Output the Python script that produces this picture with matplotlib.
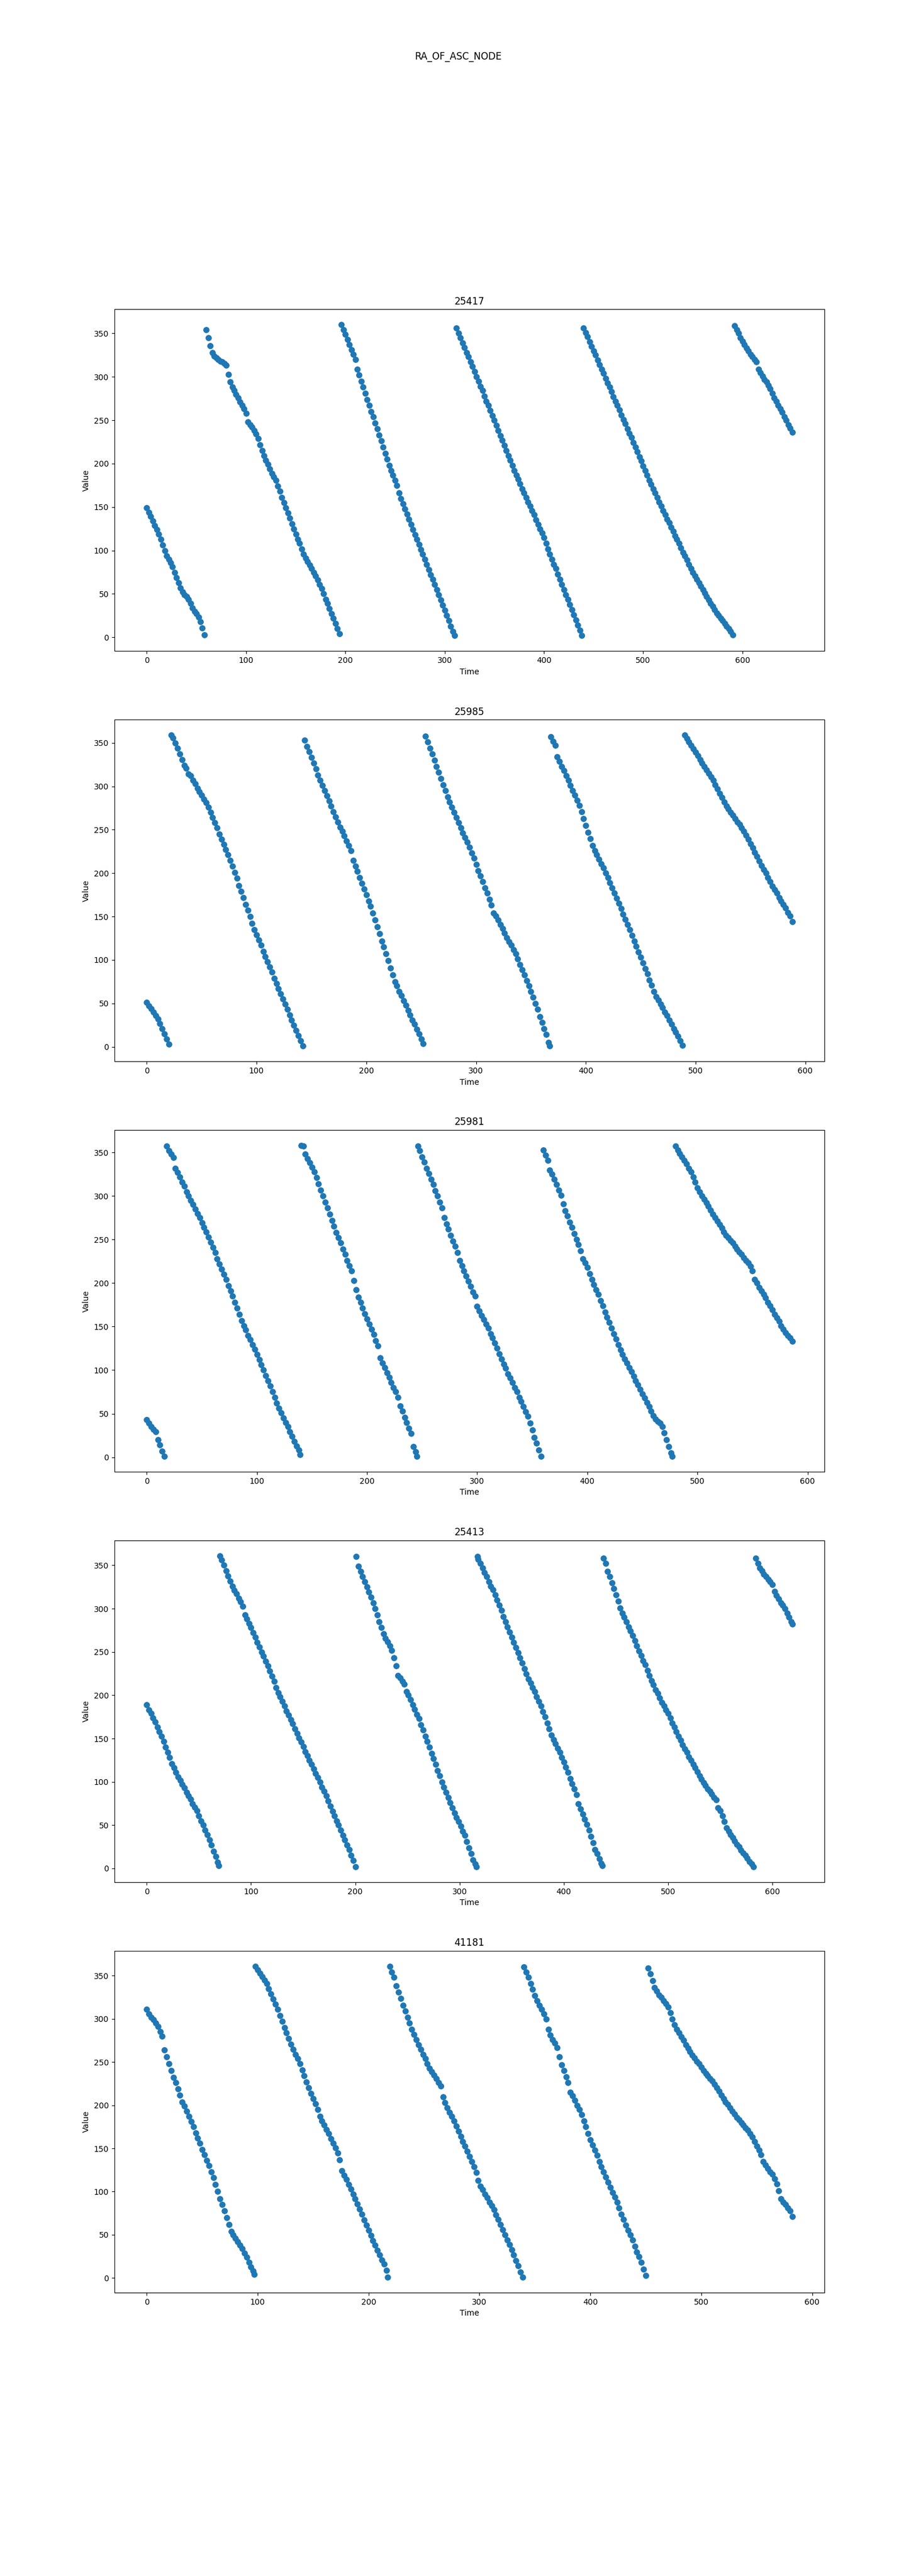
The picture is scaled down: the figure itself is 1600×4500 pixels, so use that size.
import matplotlib
matplotlib.use('Agg')
import matplotlib.pyplot as plt

# object ids shown as subplot titles
ids = ['25417', '25985', '25981', '25413', '41181']

# ---- 25417 ----
t_25417 = [0, 2, 4, 6, 8, 10, 12, 14, 16, 18, 20, 22, 24, 26, 28, 30, 32, 34, 36, 38, 40, 42, 44, 46, 48, 50, 52, 54, 56, 58,
           60, 62, 64, 66, 68, 70, 72, 74, 76, 78, 80, 82, 84, 86, 88, 90, 92, 94, 96, 98, 100, 102, 104, 106, 108, 110, 112, 114, 116, 118,
           120, 122, 124, 126, 128, 130, 132, 134, 136, 138, 140, 142, 144, 146, 148, 150, 152, 154, 156, 158, 160, 162, 164, 166, 168, 170,
           172, 174, 176, 178, 180, 182, 184, 186, 188, 190, 192, 194,
           196, 198, 200, 202, 204, 206, 208, 210, 212, 214, 216, 218, 220, 222, 224, 226, 228, 230, 232, 234, 236, 238, 240, 242, 244, 246,
           248, 250, 252, 254, 256, 258, 260, 262, 264, 266, 268, 270, 272, 274, 276, 278, 280, 282, 284, 286, 288, 290, 292, 294, 296, 298,
           300, 302, 304, 306, 308, 310,
           312, 314, 316, 318, 320, 322, 324, 326, 328, 330, 332, 334, 336, 338, 340, 342, 344, 346, 348, 350, 352, 354, 356, 358, 360, 362,
           364, 366, 368, 370, 372, 374, 376, 378, 380, 382, 384, 386, 388, 390, 392, 394, 396, 398, 400, 402, 404, 406, 408, 410, 412, 414,
           416, 418, 420, 422, 424, 426, 428, 430, 432, 434, 436, 438,
           440, 442, 444, 446, 448, 450, 452, 454, 456, 458, 460, 462, 464, 466, 468, 470, 472, 474, 476, 478, 480, 482, 484, 486, 488, 490,
           492, 494, 496, 498, 500, 502, 504, 506, 508, 510, 512, 514, 516, 518, 520, 522, 524, 526, 528, 530, 532, 534, 536, 538, 540, 542,
           544, 546, 548, 550, 552, 554, 556, 558, 560, 562, 564, 566, 568, 570, 572, 574, 576, 578, 580, 582, 584, 586, 588, 590,
           592, 594, 596, 598, 600, 602, 604, 606, 608, 610, 612, 614, 616, 618, 620, 622, 624, 626, 628, 630, 632, 634, 636, 638, 640, 642,
           644, 646, 648, 650]
v_25417 = [149, 144, 139, 134, 129, 124, 119, 113, 106, 100, 94, 90, 86, 81, 75, 69, 63, 57, 52, 49, 47, 44, 39, 34, 30, 27, 23, 18, 11, 3,
           354, 345, 336, 328, 324, 322, 320, 318, 317, 315, 313, 303, 294, 288, 284, 280, 276, 271, 267, 263, 258, 248, 245, 242, 238, 234,
           229, 222, 215, 209, 204, 199, 194, 189, 185, 181, 174, 168, 161, 155, 149, 143, 137, 131, 125, 119, 113, 108, 102, 96, 91, 87,
           83, 79, 75, 71, 66, 61, 56, 50, 44, 39, 33, 27, 22, 16, 10, 4,
           360, 354, 349, 343, 337, 331, 326, 320, 309, 302, 295, 288, 281, 274, 267, 260, 254, 247, 240, 233, 226, 219, 212, 205, 198, 192,
           187, 181, 175, 166, 160, 154, 148, 142, 136, 130, 124, 118, 113, 107, 101, 96, 90, 84, 78, 72, 67, 61, 55, 49, 43, 37,
           31, 25, 19, 13, 7, 2,
           356, 350, 345, 339, 334, 328, 323, 317, 312, 306, 300, 295, 289, 284, 278, 272, 267, 261, 255, 250, 244, 238, 232, 227, 221, 215,
           209, 204, 198, 192, 187, 182, 177, 171, 166, 161, 156, 151, 146, 141, 135, 130, 125, 120, 115, 108, 102, 96, 90, 84, 79, 73,
           67, 61, 55, 49, 44, 38, 32, 26, 20, 14, 8, 2,
           356, 351, 346, 340, 335, 330, 325, 319, 314, 309, 304, 298, 293, 288, 283, 277, 272, 267, 262, 256, 251, 246, 240, 235, 230, 224,
           219, 214, 208, 203, 197, 192, 187, 181, 176, 171, 166, 161, 156, 151, 146, 141, 136, 132, 127, 122, 117, 113, 108, 103, 98, 94,
           89, 84, 79, 75, 71, 67, 63, 59, 55, 51, 47, 43, 39, 36, 32, 28, 25, 22, 19, 16, 13, 10, 7, 3,
           359, 354, 350, 345, 341, 337, 333, 330, 326, 323, 320, 317, 309, 305, 301, 297, 294, 290, 286, 281, 276, 272, 267, 263, 259, 254,
           250, 245, 241, 236]

# ---- 25985 ----
t_25985 = [0, 2, 4, 6, 8, 10, 12, 14, 16, 18, 20,
           22, 24, 26, 28, 30, 32, 34, 36, 38, 40, 42, 44, 46, 48, 50, 52, 54, 56, 58, 60, 62, 64, 66, 68, 70, 72, 74, 76, 78, 80,
           82, 84, 86, 88, 90, 92, 94, 96, 98, 100, 102, 104, 106, 108, 110, 112, 114, 116, 118, 120, 122, 124, 126, 128, 130, 132,
           134, 136, 138, 140, 142,
           144, 146, 148, 150, 152, 154, 156, 158, 160, 162, 164, 166, 168, 170, 172, 174, 176, 178, 180, 182, 184, 186, 188, 190, 192, 194,
           196, 198, 200, 202, 204, 206, 208, 210, 212, 214, 216, 218, 220, 222, 224, 226, 228, 230, 232, 234, 236, 238, 240, 242, 244, 246,
           248, 250, 252,
           254, 256, 258, 260, 262, 264, 266, 268, 270, 272, 274, 276, 278, 280, 282, 284, 286, 288, 290, 292, 294, 296, 298, 300, 302, 304,
           306, 308, 310, 312, 314, 316, 318, 320, 322, 324, 326, 328, 330, 332, 334, 336, 338, 340, 342, 344, 346, 348, 350, 352, 354, 356,
           358, 360, 362, 364, 366, 367,
           368, 370, 372, 374, 376, 378, 380, 382, 384, 386, 388, 390, 392, 394, 396, 398, 400, 402, 404, 406, 408, 410, 412, 414, 416, 418,
           420, 422, 424, 426, 428, 430, 432, 434, 436, 438, 440, 442, 444, 446, 448, 450, 452, 454, 456, 458, 460, 462, 464, 466, 468, 470,
           472, 474, 476, 478, 480, 482, 484, 486, 488,
           490, 492, 494, 496, 498, 500, 502, 504, 506, 508, 510, 512, 514, 516, 518, 520, 522, 524, 526, 528, 530, 532, 534, 536, 538, 540,
           542, 544, 546, 548, 550, 552, 554, 556, 558, 560, 562, 564, 566, 568, 570, 572, 574, 576, 578, 580, 582, 584, 586, 588]
v_25985 = [51, 47, 44, 40, 36, 32, 27, 21, 15, 9, 3,
           359, 356, 350, 344, 337, 331, 324, 321, 314, 312, 307, 303, 298, 294, 290, 285, 281, 276, 270, 264, 258, 252, 245, 239, 233, 227,
           221, 215, 208, 201, 194, 186, 179, 172, 164, 157, 150, 142, 135, 129, 123, 117, 110, 104, 98, 92, 86, 79, 73, 67, 61, 55,
           49, 43, 37, 31, 25, 19, 13, 7, 1,
           353, 346, 340, 333, 327, 320, 313, 307, 301, 295, 289, 283, 277, 271, 265, 259, 253, 248, 243, 237, 232, 226, 215, 208, 202, 195,
           188, 182, 175, 168, 162, 154, 146, 138, 130, 122, 115, 107, 99, 91, 83, 75, 70, 64, 59, 53, 48, 42, 37, 31, 26, 20,
           15, 9, 4,
           358, 351, 344, 337, 330, 323, 316, 309, 302, 295, 288, 282, 276, 270, 264, 258, 252, 246, 241, 236, 230, 223, 217, 210, 203, 197,
           190, 183, 177, 170, 163, 154, 151, 146, 141, 136, 131, 126, 121, 117, 112, 107, 101, 95, 89, 83, 76, 70, 64, 57, 50, 43,
           35, 28, 21, 14, 5, 1,
           357, 352, 347, 334, 329, 323, 318, 312, 307, 301, 295, 290, 284, 278, 271, 263, 255, 247, 240, 232, 226, 221, 216, 211, 206, 200,
           195, 189, 183, 177, 171, 165, 159, 153, 147, 141, 135, 128, 122, 116, 109, 103, 97, 90, 84, 77, 71, 64, 58, 54, 49, 45,
           40, 36, 31, 26, 21, 17, 12, 7, 2,
           359, 355, 351, 347, 343, 339, 335, 331, 327, 323, 319, 315, 311, 307, 302, 297, 292, 287, 282, 277, 274, 270, 267, 263, 259, 256,
           252, 248, 244, 239, 234, 229, 224, 219, 214, 209, 204, 200, 195, 190, 185, 181, 177, 172, 168, 164, 160, 155, 151, 144]

# ---- 25981 ----
t_25981 = [0, 2, 4, 6, 8, 10, 12, 14, 16,
           18, 20, 22, 24, 26, 28, 30, 32, 34, 36, 38, 40, 42, 44, 46, 48, 50, 52, 54, 56, 58, 60, 62, 64, 66, 68, 70, 72, 74, 76,
           78, 80, 82, 84, 86, 88, 90, 92, 94, 96, 98, 100, 102, 104, 106, 108, 110, 112, 114, 116, 118, 120, 122, 124, 126, 128,
           130, 132, 134, 136, 138, 139,
           140, 142, 144, 146, 148, 150, 152, 154, 156, 158, 160, 162, 164, 166, 168, 170, 172, 174, 176, 178, 180, 182, 184, 186, 188, 190,
           192, 194, 196, 198, 200, 202, 204, 206, 208, 210, 212, 214, 216, 218, 220, 222, 224, 226, 228, 230, 232, 234, 236, 238, 240, 242,
           244, 245,
           246, 248, 250, 252, 254, 256, 258, 260, 262, 264, 266, 268, 270, 272, 274, 276, 278, 280, 282, 284, 286, 288, 290, 292, 294, 296,
           298, 300, 302, 304, 306, 308, 310, 312, 314, 316, 318, 320, 322, 324, 326, 328, 330, 332, 334, 336, 338, 340, 342, 344, 346, 348,
           350, 352, 354, 356, 358,
           360, 362, 364, 366, 368, 370, 372, 374, 376, 378, 380, 382, 384, 386, 388, 390, 392, 394, 396, 398, 400, 402, 404, 406, 408, 410,
           412, 414, 416, 418, 420, 422, 424, 426, 428, 430, 432, 434, 436, 438, 440, 442, 444, 446, 448, 450, 452, 454, 456, 458, 460, 462,
           464, 466, 468, 470, 472, 474, 476, 477,
           480, 482, 484, 486, 488, 490, 492, 494, 496, 498, 500, 502, 504, 506, 508, 510, 512, 514, 516, 518, 520, 522, 524, 526, 528, 530,
           532, 534, 536, 538, 540, 542, 544, 546, 548, 550, 552, 554, 556, 558, 560, 562, 564, 566, 568, 570, 572, 574, 576, 578, 580, 582,
           584, 586]
v_25981 = [43, 39, 35, 32, 29, 20, 14, 7, 1,
           357, 352, 348, 344, 332, 327, 322, 316, 311, 305, 300, 295, 290, 285, 280, 275, 269, 264, 259, 253, 247, 241, 235, 228, 222, 216,
           210, 204, 197, 191, 185, 178, 171, 164, 157, 151, 146, 140, 135, 129, 124, 118, 112, 106, 100, 94, 88, 82, 75, 69, 62, 56,
           51, 45, 40, 35, 29, 24, 18, 13, 8, 3,
           358, 357, 348, 343, 338, 333, 328, 321, 314, 307, 300, 293, 286, 279, 272, 265, 258, 252, 246, 239, 233, 226, 220, 214, 203, 192,
           184, 178, 171, 165, 159, 153, 147, 141, 134, 128, 114, 108, 103, 97, 92, 86, 80, 75, 69, 59, 53, 46, 40, 33, 27, 12,
           6, 1,
           357, 352, 345, 339, 332, 326, 319, 313, 306, 300, 293, 286, 275, 268, 262, 255, 248, 242, 235, 226, 220, 214, 208, 202, 196, 190,
           185, 173, 168, 163, 158, 153, 148, 142, 137, 131, 125, 119, 113, 107, 102, 96, 91, 86, 80, 75, 69, 64, 58, 52, 47, 39,
           31, 23, 16, 8, 1,
           353, 347, 341, 330, 325, 319, 313, 307, 301, 291, 283, 277, 270, 264, 257, 250, 244, 237, 228, 223, 218, 211, 204, 198, 192, 187,
           180, 174, 167, 161, 155, 148, 142, 136, 129, 123, 118, 113, 108, 103, 98, 93, 88, 83, 78, 73, 68, 63, 58, 53, 48, 44,
           41, 39, 35, 28, 20, 12, 5, 1,
           357, 353, 349, 345, 341, 337, 332, 328, 322, 316, 309, 305, 300, 296, 292, 288, 284, 279, 275, 271, 267, 263, 259, 255, 252, 249,
           246, 242, 239, 236, 233, 229, 226, 223, 219, 214, 204, 200, 195, 191, 187, 183, 178, 174, 169, 164, 160, 156, 151, 147, 143, 140,
           137, 133]

# ---- 25413 ----
t_25413 = [0, 2, 4, 6, 8, 10, 12, 14, 16, 18, 20, 22, 24, 26, 28, 30, 32, 34, 36, 38, 40, 42, 44, 46, 48, 50, 52, 54, 56, 58,
           60, 62, 64, 66, 68, 69,
           70, 72, 74, 76, 78, 80, 82, 84, 86, 88, 90, 92, 94, 96, 98, 100, 102, 104, 106, 108, 110, 112, 114, 116, 118, 120, 122, 124,
           126, 128, 130, 132, 134, 136, 138, 140, 142, 144, 146, 148, 150, 152, 154, 156, 158, 160, 162, 164, 166, 168, 170, 172, 174, 176,
           178, 180, 182, 184, 186, 188, 190, 192, 194, 196, 198, 200,
           201, 203, 205, 207, 209, 211, 213, 215, 217, 219, 221, 223, 225, 227, 229, 231, 233, 235, 237, 239, 241, 243, 245, 247, 249, 251,
           253, 255, 257, 259, 261, 263, 265, 267, 269, 271, 273, 275, 277, 279, 281, 283, 285, 287, 289, 291, 293, 295, 297, 299, 301, 303,
           305, 307, 309, 311, 313, 315, 316,
           317, 318, 320, 322, 324, 326, 328, 330, 332, 334, 336, 338, 340, 342, 344, 346, 348, 350, 352, 354, 356, 358, 360, 362, 364, 366,
           368, 370, 372, 374, 376, 378, 380, 382, 384, 386, 388, 390, 392, 394, 396, 398, 400, 402, 404, 406, 408, 410, 412, 414, 416, 418,
           420, 422, 424, 426, 428, 430, 432, 434, 436, 437,
           438, 440, 442, 444, 446, 448, 450, 452, 454, 456, 458, 460, 462, 464, 466, 468, 470, 472, 474, 476, 478, 480, 482, 484, 486, 488,
           490, 492, 494, 496, 498, 500, 502, 504, 506, 508, 510, 512, 514, 516, 518, 520, 522, 524, 526, 528, 530, 532, 534, 536, 538, 540,
           542, 544, 546, 548, 550, 552, 554, 556, 558, 560, 562, 564, 566, 568, 570, 572, 574, 576, 578, 580, 582,
           584, 586, 588, 590, 592, 594, 596, 598, 600, 602, 604, 606, 608, 610, 612, 614, 616, 618, 619]
v_25413 = [189, 183, 179, 174, 169, 163, 158, 153, 147, 140, 134, 128, 121, 116, 111, 106, 102, 97, 93, 88, 84, 80, 75, 71, 67, 61, 55, 50, 44, 39,
           33, 27, 20, 14, 7, 3,
           361, 356, 350, 344, 338, 332, 326, 321, 317, 312, 308, 303, 293, 288, 283, 278, 272, 267, 261, 256, 250, 245, 239, 234, 228, 222,
           216, 209, 203, 198, 193, 188, 182, 177, 172, 167, 161, 156, 151, 146, 141, 135, 130, 125, 120, 115, 110, 105, 100, 94, 89, 84,
           78, 72, 66, 61, 55, 50, 44, 38, 33, 27, 22, 15, 9, 2,
           360, 349, 343, 337, 331, 325, 319, 313, 307, 300, 293, 285, 278, 271, 266, 262, 257, 252, 243, 234, 223, 220, 216, 213, 204, 200,
           195, 189, 184, 178, 173, 166, 160, 153, 147, 140, 133, 127, 120, 113, 107, 100, 94, 88, 82, 76, 70, 64, 59, 54, 49, 43,
           38, 31, 24, 17, 10, 5, 2,
           360, 357, 352, 347, 342, 337, 331, 326, 322, 316, 310, 304, 298, 291, 285, 279, 273, 267, 261, 255, 249, 243, 237, 231, 225, 219,
           214, 209, 204, 198, 193, 188, 181, 175, 168, 161, 154, 149, 144, 139, 134, 128, 123, 117, 111, 104, 98, 92, 85, 75, 69, 63,
           57, 51, 44, 37, 30, 22, 17, 11, 6, 3,
           358, 352, 343, 337, 330, 323, 316, 309, 301, 295, 290, 285, 279, 274, 269, 263, 257, 251, 246, 240, 235, 229, 223, 217, 212, 206,
           202, 197, 192, 188, 183, 179, 174, 168, 163, 158, 153, 148, 143, 138, 134, 129, 125, 120, 116, 112, 107, 103, 99, 96, 92, 89,
           86, 82, 79, 70, 67, 61, 54, 47, 43, 39, 36, 32, 28, 25, 21, 18, 15, 12, 8, 5, 2,
           358, 352, 347, 344, 340, 337, 334, 331, 328, 320, 315, 311, 307, 304, 300, 295, 290, 285, 282]

# ---- 41181 ----
t_41181 = [0, 2, 4, 6, 8, 10, 12, 14, 16, 18, 20, 22, 24, 26, 28, 30, 32, 34, 36, 38, 40, 42, 44, 46, 48, 50, 52, 54, 56, 58,
           60, 62, 64, 66, 68, 70, 72, 74, 76, 78, 80, 82, 84, 86, 88, 90, 92, 94, 96, 97,
           98, 100, 102, 104, 106, 108, 110, 112, 114, 116, 118, 120, 122, 124, 126, 128, 130, 132, 134, 136, 138, 140, 142, 144, 146, 148,
           150, 152, 154, 156, 158, 160, 162, 164, 166, 168, 170, 172, 174, 176, 178, 180, 182, 184, 186, 188, 190, 192, 194, 196, 198, 200,
           202, 204, 206, 208, 210, 212, 214, 216, 217,
           219, 221, 223, 225, 227, 229, 231, 233, 235, 237, 239, 241, 243, 245, 247, 249, 251, 253, 255, 257, 259, 261, 263, 265, 267, 269,
           271, 273, 275, 277, 279, 281, 283, 285, 287, 289, 291, 293, 295, 297, 299, 301, 303, 305, 307, 309, 311, 313, 315, 317, 319, 321,
           323, 325, 327, 329, 331, 333, 335, 337, 339,
           340, 342, 344, 346, 348, 350, 352, 354, 356, 358, 360, 362, 364, 366, 368, 370, 372, 374, 376, 378, 380, 382, 384, 386, 388, 390,
           392, 394, 396, 398, 400, 402, 404, 406, 408, 410, 412, 414, 416, 418, 420, 422, 424, 426, 428, 430, 432, 434, 436, 438, 440, 442,
           444, 446, 448, 450,
           452, 454, 456, 458, 460, 462, 464, 466, 468, 470, 472, 474, 476, 478, 480, 482, 484, 486, 488, 490, 492, 494, 496, 498, 500, 502,
           504, 506, 508, 510, 512, 514, 516, 518, 520, 522, 524, 526, 528, 530, 532, 534, 536, 538, 540, 542, 544, 546, 548, 550, 552, 554,
           556, 558, 560, 562, 564, 566, 568, 570, 572, 574, 576, 578, 580, 582]
v_41181 = [311, 306, 302, 299, 295, 291, 285, 280, 264, 256, 248, 240, 232, 226, 219, 212, 204, 199, 193, 187, 181, 175, 168, 162, 156, 149,
           143, 136, 130, 123, 116, 108, 100, 92, 85, 78, 70, 62, 54, 50, 46, 42, 38, 34, 29, 24, 18, 13, 8, 4,
           361, 357, 353, 349, 345, 341, 335, 329, 323, 317, 311, 304, 297, 290, 284, 277, 271, 265, 259, 254, 248, 241, 234, 227, 220, 214,
           208, 202, 195, 187, 182, 177, 172, 167, 161, 156, 151, 145, 137, 124, 119, 114, 108, 103, 97, 92, 86, 80, 74, 67, 61, 55,
           49, 43, 38, 32, 27, 21, 16, 9, 1,
           361, 354, 348, 338, 331, 324, 316, 309, 302, 295, 288, 282, 276, 270, 265, 259, 254, 248, 243, 239, 235, 231, 226, 222, 210, 203,
           197, 192, 187, 182, 176, 170, 164, 158, 153, 147, 141, 135, 129, 122, 113, 106, 102, 97, 93, 88, 84, 79, 73, 68, 62, 56,
           50, 44, 39, 33, 27, 20, 14, 7, 1,
           360, 354, 348, 341, 334, 327, 321, 316, 311, 306, 300, 288, 281, 276, 272, 267, 256, 247, 240, 233, 226, 215, 211, 206, 200, 195,
           189, 182, 175, 167, 160, 154, 148, 142, 135, 129, 123, 117, 111, 105, 99, 94, 88, 81, 74, 68, 61, 55, 50, 44, 37, 30,
           25, 18, 10, 3,
           359, 352, 344, 336, 332, 328, 325, 321, 318, 314, 307, 300, 293, 288, 284, 279, 275, 270, 266, 262, 258, 255, 251, 248, 244, 240,
           237, 234, 231, 228, 224, 220, 216, 212, 208, 204, 201, 197, 193, 190, 186, 183, 180, 177, 174, 171, 167, 163, 158, 153, 148, 143,
           135, 131, 127, 123, 120, 115, 109, 101, 92, 88, 85, 81, 78, 71]

series = {
    '25417': (t_25417, v_25417),
    '25985': (t_25985, v_25985),
    '25981': (t_25981, v_25981),
    '25413': (t_25413, v_25413),
    '41181': (t_41181, v_41181),
}

fig, axes = plt.subplots(len(ids), 1, figsize=(16, 45))
fig.suptitle('RA_OF_ASC_NODE')

for ax, sat_id in zip(axes, ids):
    t, v = series[sat_id]
    # slightly bigger dots so the 2-step samples read as a continuous chain
    ax.scatter(t, v, s=46)
    ax.set_title(sat_id)
    ax.set_xlabel('Time')
    ax.set_ylabel('Value')

plt.savefig('out.png', dpi=100)
plt.close()
